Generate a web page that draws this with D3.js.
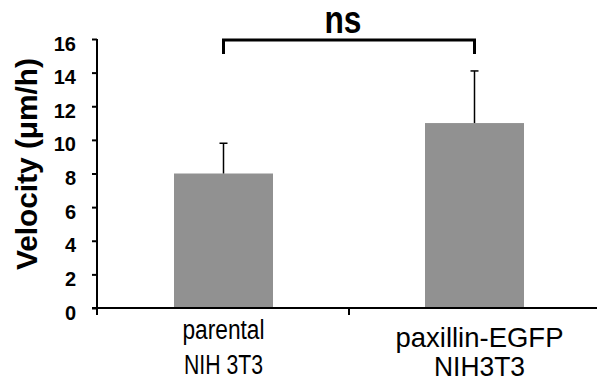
<!DOCTYPE html>
<html>
<head>
<meta charset="utf-8">
<script src="https://cdn.jsdelivr.net/npm/d3@7"></script>
<style>
  body { margin: 0; background: #fff; }
  svg { display: block; }
</style>
</head>
<body>
<div id="chart"></div>
<script>
// values
var categories = ["parental\nNIH 3T3", "paxillin-EGFP\nNIH3T3"];
var velocity = [8.0, 11.0];
var errorUp = [1.8, 3.1];
var yTicks = [0, 2, 4, 6, 8, 10, 12, 14, 16];
var yLabel = "Velocity (\u03bcm/h)";
var sigLabel = "ns";

var W = 597, H = 383;
var narrow = "'Liberation Sans Narrow', 'Arial Narrow', 'Liberation Sans', sans-serif";
var svg = d3.select("#chart").append("svg")
    .attr("width", W)
    .attr("height", H);

var x = d3.scaleBand().domain(categories).range([98, 600]).padding(0);
var y = d3.scaleLinear().domain([0, 16]).range([308, 39]);
var barW = 99;

// bars
svg.selectAll(".bar")
    .data(velocity)
    .enter()
    .append("rect")
    .attr("class", "bar")
    .attr("x", function (d, i) { return x(categories[i]) + x.bandwidth() / 2 - barW / 2; })
    .attr("y", function (d) { return y(d); })
    .attr("width", barW)
    .attr("height", function (d) { return y(0) - y(d); })
    .attr("fill", "#919191");

// error bars (upper only)
var eb = svg.selectAll(".err")
    .data(velocity)
    .enter()
    .append("g")
    .attr("class", "err")
    .attr("transform", function (d, i) { return "translate(" + (x(categories[i]) + x.bandwidth() / 2) + ",0)"; });
eb.append("line")
    .attr("y1", function (d) { return y(d); })
    .attr("y2", function (d, i) { return y(d + errorUp[i]); })
    .attr("stroke", "#000").attr("stroke-width", 1.5);
eb.append("line")
    .attr("x1", -4).attr("x2", 4)
    .attr("y1", function (d, i) { return y(d + errorUp[i]); })
    .attr("y2", function (d, i) { return y(d + errorUp[i]); })
    .attr("stroke", "#000").attr("stroke-width", 1.5);

// y axis
var yAxis = svg.append("g")
    .attr("transform", "translate(97,0)")
    .call(d3.axisLeft(y).tickValues(yTicks).tickSize(5).tickPadding(16));
yAxis.select(".domain").attr("d", "M0," + y(16) + "V" + (y(0) + 7)).attr("stroke-width", 2);
yAxis.selectAll(".tick line").attr("stroke-width", 2);
yAxis.selectAll(".tick text")
    .style("font-family", narrow)
    .style("font-weight", "bold")
    .style("font-size", "20px")
    .attr("dy", "0.55em")
    .attr("fill", "#000");

// x axis
var xAxis = svg.append("g")
    .attr("transform", "translate(0," + y(0) + ")")
    .call(d3.axisBottom(x).tickSize(0).tickFormat(""));
xAxis.select(".domain").attr("d", "M92,0H597").attr("stroke-width", 2);
xAxis.selectAll(".sep")
    .data([x.range()[0] + x.bandwidth()])
    .enter()
    .append("line")
    .attr("class", "sep")
    .attr("x1", function (d) { return d; }).attr("x2", function (d) { return d; })
    .attr("y1", 0).attr("y2", 7)
    .attr("stroke", "#000").attr("stroke-width", 2);

// category labels
var labelStyle = [
    { size: 27, lines: [{ dy: 339, w: 82 }, { dy: 374, w: 79 }], shift: 0 },
    { size: 28, lines: [{ dy: 347, w: 168 }, { dy: 376, w: 91 }], shift: 5 }
];
categories.forEach(function (c, i) {
    var cx = x(c) + x.bandwidth() / 2 + labelStyle[i].shift;
    c.split("\n").forEach(function (line, j) {
        svg.append("text")
            .attr("x", cx)
            .attr("y", labelStyle[i].lines[j].dy)
            .attr("text-anchor", "middle")
            .style("font-family", narrow)
            .style("font-size", labelStyle[i].size + "px")
            .attr("textLength", labelStyle[i].lines[j].w)
            .attr("lengthAdjust", "spacingAndGlyphs")
            .attr("fill", "#000")
            .text(line);
    });
});

// y axis title
svg.append("text")
    .attr("transform", "translate(37,164) rotate(-90)")
    .attr("text-anchor", "middle")
    .style("font-family", "'Liberation Sans', Arial, sans-serif")
    .style("font-weight", "bold")
    .style("font-size", "29.5px")
    .attr("textLength", 212)
    .attr("lengthAdjust", "spacingAndGlyphs")
    .attr("fill", "#000")
    .text(yLabel);

// significance bracket
var x1 = x(categories[0]) + x.bandwidth() / 2;
var x2 = x(categories[1]) + x.bandwidth() / 2;
svg.append("path")
    .attr("d", "M" + x1 + ",54V40H" + x2 + "V54")
    .attr("fill", "none")
    .attr("stroke", "#000")
    .attr("stroke-width", 3);
svg.append("text")
    .attr("x", 343)
    .attr("y", 33)
    .attr("text-anchor", "middle")
    .style("font-family", narrow)
    .style("font-weight", "bold")
    .style("font-size", "38px")
    .attr("textLength", 37)
    .attr("lengthAdjust", "spacingAndGlyphs")
    .attr("fill", "#000")
    .text(sigLabel);
</script>
</body>
</html>
